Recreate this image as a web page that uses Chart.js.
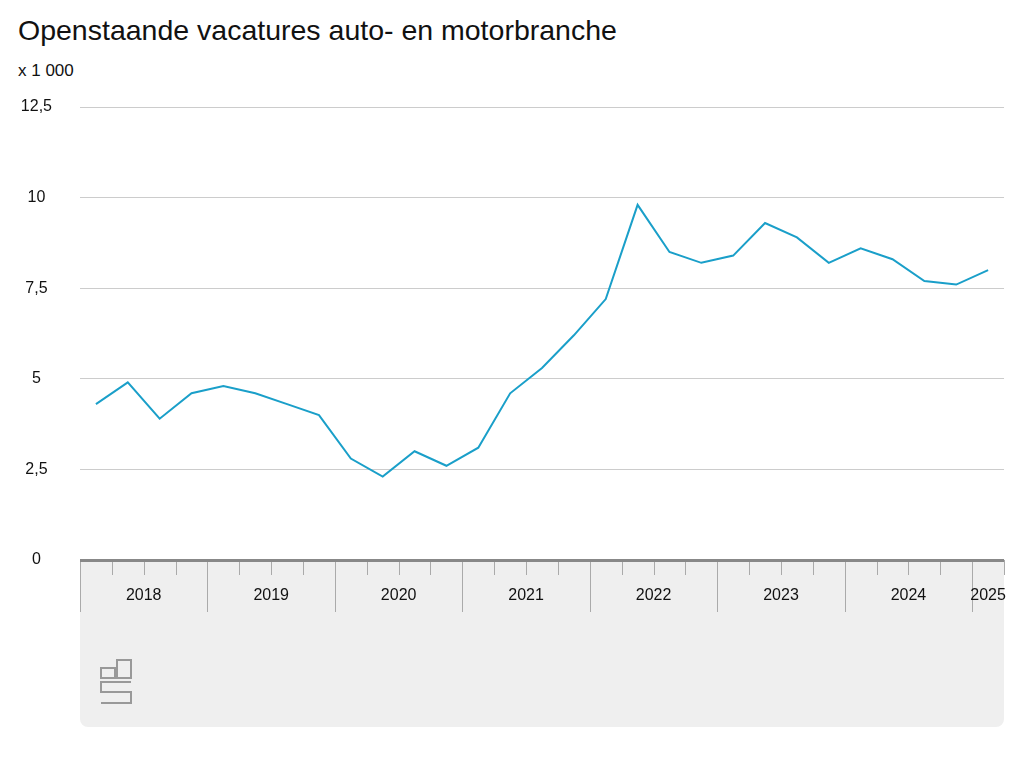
<!DOCTYPE html>
<html>
<head>
<meta charset="utf-8">
<script src="https://cdn.jsdelivr.net/npm/chart.js@4"></script>
<style>
  body { margin: 0; background: #fff; font-family: "Liberation Sans", Arial, sans-serif; }
  #wrap { position: relative; width: 1024px; height: 768px; }
  #title { position: absolute; left: 18px; top: 14px; font-size: 28.5px; color: #111; }
  #unit { position: absolute; left: 18px; top: 61px; font-size: 17px; color: #111; }
  canvas { position: absolute; left: 0; top: 0; }
</style>
</head>
<body>
<div id="wrap">
  <div id="title">Openstaande vacatures auto- en motorbranche</div>
  <div id="unit">x 1 000</div>
  <canvas id="c" width="1024" height="768"></canvas>
</div>
<script>
const years = ['2018', '2019', '2020', '2021', '2022', '2023', '2024', '2025'];
const quarters = ['2018 Q1','2018 Q2','2018 Q3','2018 Q4','2019 Q1','2019 Q2','2019 Q3','2019 Q4',
  '2020 Q1','2020 Q2','2020 Q3','2020 Q4','2021 Q1','2021 Q2','2021 Q3','2021 Q4',
  '2022 Q1','2022 Q2','2022 Q3','2022 Q4','2023 Q1','2023 Q2','2023 Q3','2023 Q4',
  '2024 Q1','2024 Q2','2024 Q3','2024 Q4','2025 Q1'];
const vacancies = [4.3, 4.9, 3.9, 4.6, 4.8, 4.6, 4.3, 4.0,
  2.8, 2.3, 3.0, 2.6, 3.1, 4.6, 5.3, 6.2,
  7.2, 9.8, 8.5, 8.2, 8.4, 9.3, 8.9, 8.2,
  8.6, 8.3, 7.7, 7.6, 8.0];
const yTicks = [0, 2.5, 5, 7.5, 10, 12.5];

// year label positions: middle of each year's quarters
const yearPos = years.map((y, i) => {
  const n = quarters.filter(q => q.startsWith(y)).length;
  return i * 4 + (n - 1) / 2;
});

const backdrop = {
  id: 'backdrop',
  beforeDraw(chart) {
    const { ctx, chartArea: a, scales: { x } } = chart;
    ctx.save();
    ctx.fillStyle = '#efefef';
    ctx.beginPath();
    ctx.roundRect(a.left, a.bottom, a.right - a.left, 727 - a.bottom, [0, 0, 8, 8]);
    ctx.fill();
    // quarter / year tick marks
    ctx.strokeStyle = '#aaa';
    ctx.lineWidth = 1;
    for (let i = 0; i <= quarters.length; i++) {
      const px = Math.round(x.getPixelForValue(i - 0.5)) + 0.5;
      ctx.beginPath();
      ctx.moveTo(px, a.bottom);
      ctx.lineTo(px, i % 4 === 0 ? a.bottom + 52 : a.bottom + 15);
      ctx.stroke();
    }
    // simple logo mark
    ctx.strokeStyle = '#999';
    ctx.lineWidth = 2;
    ctx.strokeRect(101, 668, 14, 10);
    ctx.strokeRect(117, 660, 14, 18);
    ctx.beginPath();
    ctx.moveTo(131, 682); ctx.lineTo(101, 682); ctx.lineTo(101, 692);
    ctx.lineTo(131, 692); ctx.lineTo(131, 703); ctx.lineTo(101, 703);
    ctx.stroke();
    ctx.restore();
  }
};

new Chart(document.getElementById('c'), {
  type: 'line',
  data: {
    datasets: [{
      data: vacancies.map((v, i) => ({ x: i, y: v })),
      borderColor: '#1a9fc9',
      borderWidth: 2,
      pointRadius: 0,
      tension: 0
    }]
  },
  plugins: [backdrop],
  options: {
    responsive: false,
    animation: false,
    layout: { padding: { top: 107, right: 6, left: 0, bottom: 0 } },
    plugins: { legend: { display: false }, tooltip: { enabled: false } },
    scales: {
      x: {
        type: 'linear',
        min: -0.5,
        max: quarters.length - 0.5,
        afterBuildTicks: s => { s.ticks = yearPos.map(v => ({ value: v })); },
        afterFit: s => { s.height = 208; },
        grid: { display: false },
        border: { display: false },
        ticks: {
          padding: 18,
          color: '#111',
          font: { size: 16, family: 'Liberation Sans' },
          callback: (v, i) => years[i]
        }
      },
      y: {
        min: 0,
        max: 12.5,
        afterBuildTicks: s => { s.ticks = yTicks.map(v => ({ value: v })); },
        afterFit: s => { s.width = 80; },
        border: { display: false },
        grid: {
          drawTicks: false,
          color: c => c.tick.value === 0 ? '#888' : '#ccc',
          lineWidth: c => c.tick.value === 0 ? 3 : 1
        },
        ticks: {
          padding: 28,
          color: '#111',
          crossAlign: 'center',
          font: { size: 16, family: 'Liberation Sans' },
          callback: v => String(v).replace('.', ',')
        }
      }
    }
  }
});
</script>
</body>
</html>
